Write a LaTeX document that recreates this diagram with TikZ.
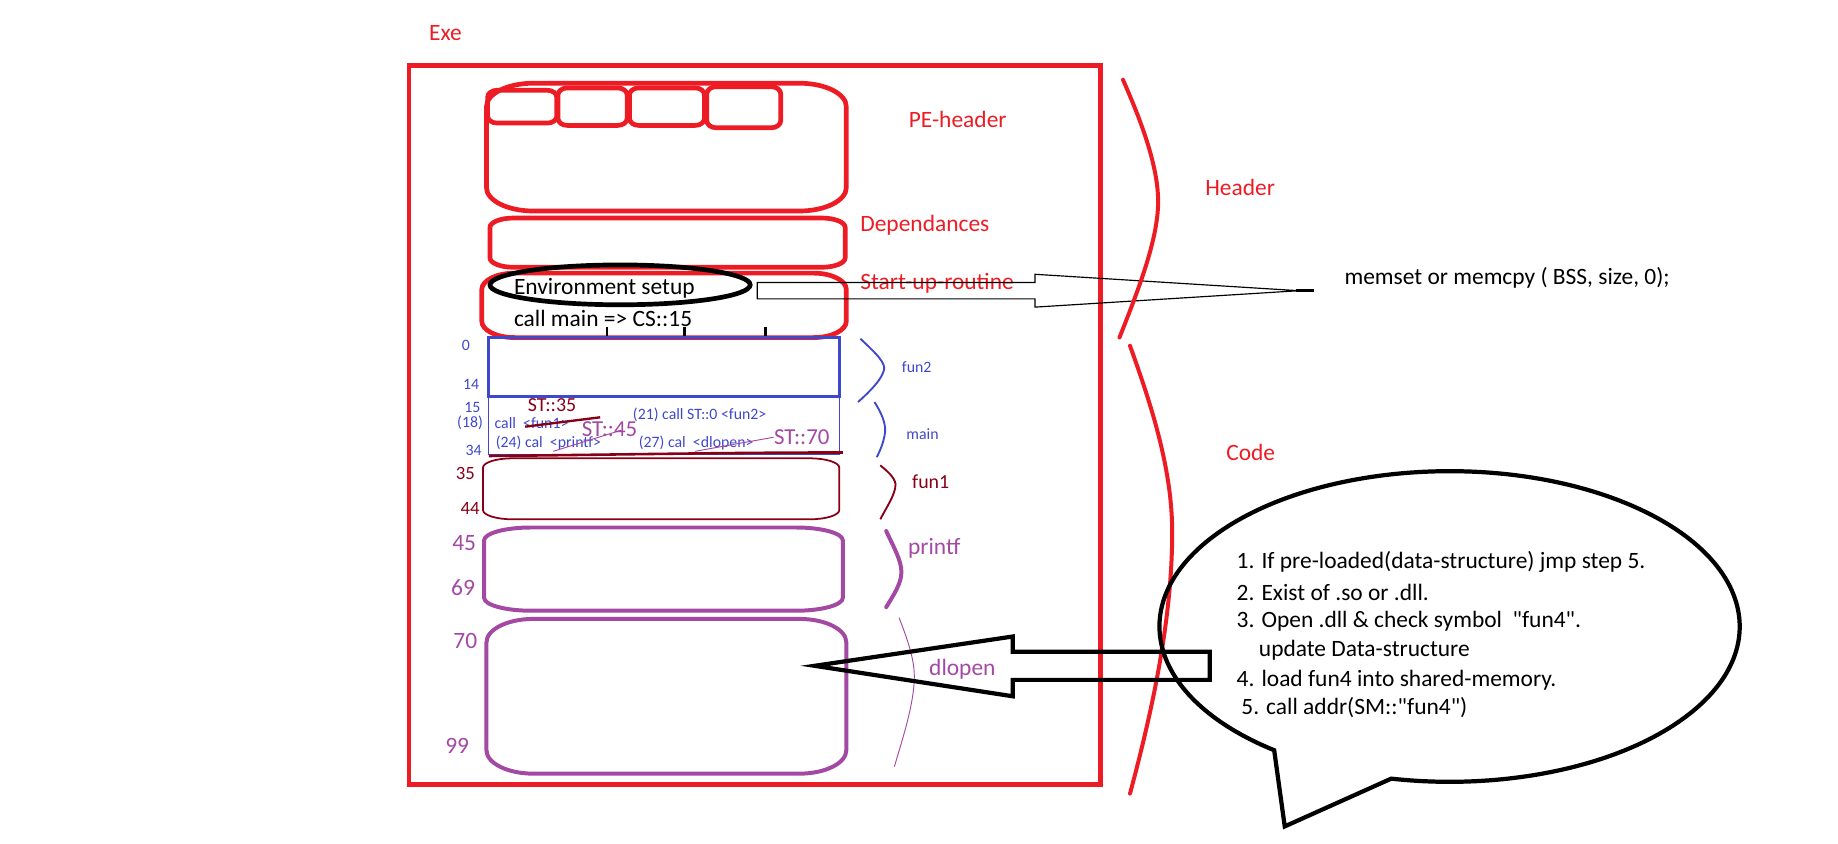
\documentclass[tikz,border=0pt]{standalone}
\usepackage{fontspec}
\setmainfont{Carlito}
\newfontfamily\carl{Carlito}
\definecolor{pred}{HTML}{ED1C24}
\definecolor{pblue}{HTML}{3F48CC}
\definecolor{pdred}{HTML}{880015}
\definecolor{ppurple}{HTML}{A349A4}
% rectangle with elliptical corners: style, x1, y1, x2, y2, rx, ry
\newcommand{\ebox}[7]{%
 \draw[#1] ({#2+#6},#3) -- ({#4-#6},#3)
   arc[start angle=-90,end angle=0,x radius=#6,y radius=#7] -- (#4,{#5-#7})
   arc[start angle=0,end angle=90,x radius=#6,y radius=#7] -- ({#2+#6},#5)
   arc[start angle=90,end angle=180,x radius=#6,y radius=#7] -- (#2,{#3+#7})
   arc[start angle=180,end angle=270,x radius=#6,y radius=#7] -- cycle;}
\begin{document}
\begin{tikzpicture}[x=1pt,y=-1pt,
  every node/.style={inner sep=0pt, outer sep=0pt},
  tbig/.style={font=\carl\fontsize{20}{24}\selectfont},
  tsmall/.style={font=\carl\fontsize{13.5}{16}\selectfont, text=pblue},
  redbox/.style={draw=pred, line width=4pt},
  redbrace/.style={draw=pred, line width=3.4pt, line cap=round},
  purplebox/.style={draw=ppurple, line width=3.4pt},
  blackline/.style={draw=black, line width=3.6pt, line join=miter},
]
\useasboundingbox (0,0) rectangle (1568,720);

% ---------- Exe frame ----------
\node[tbig, text=pred] (exe) at (380,28) {Exe};
\draw[redbox] (349,56) rectangle (939,669);

% ---------- PE header ----------
\ebox{redbox}{415}{71}{722}{180}{40}{20}
\ebox{redbox}{416}{77}{475}{105}{8}{6}
\ebox{redbox}{476}{75}{535}{107}{8}{6}
\ebox{redbox}{537}{75}{601}{107}{8}{6}
\ebox{redbox}{603}{74}{666}{109}{8}{6}
\node[tbig, text=pred] (peh) at (817,102) {PE-header};

% ---------- Dependances ----------
\ebox{redbox}{418}{186}{721}{228}{20}{8}
\node[tbig, text=pred, anchor=west] (dep) at (734,192) {Dependances};

% ---------- Start-up routine ----------
\ebox{redbox}{411}{233}{722}{288}{28}{14}
\draw[black, line width=2pt] (518,279) -- (518,288);
\draw[black, line width=2pt] (584,279) -- (584,288);
\draw[black, line width=2pt] (653,279) -- (653,288);
\draw[black, line width=4pt] (529,243) ellipse[x radius=111, y radius=17];
\node[tbig, anchor=west] (env) at (438.5,246) {Environment setup};
\node[tbig, anchor=west] (callm) at (438.5,271.5) {call main => CS::15};
\node[tbig, text=pred, anchor=west] (sur) at (734,242) {Start-up-routine};

% thin arrow to memset
\draw[black, line width=1pt] (646,241) -- (883,241) -- (883,234) -- (1108,248)
  -- (883,262) -- (883,255) -- (646,255) -- cycle;
\draw[black, line width=2.2pt] (1106,248) -- (1121,248);
\node[tbig, anchor=west] (mem) at (1147,237) {memset or memcpy ( BSS, size, 0);};

% ---------- fun2 / main ----------
\draw[pblue, line width=2.4pt] (417,288) rectangle (716,338);
\draw[pblue, line width=1pt] (417,338) rectangle (716,388);
\node[tsmall] (l0) at (397.5,295) {0};
\node[tsmall] (l14) at (402,328) {14};
\node[tsmall] (l15) at (403,348) {15};
\node[tsmall] (l18) at (401,361) {(18)};
\node[tsmall] (l34) at (404,384) {34};
\node[tsmall, anchor=west] (c1) at (422,361) {call\ \ <fun1>};
\node[tsmall, anchor=west] (c21) at (540,354) {(21) call ST::0 <fun2>};
\node[tsmall, anchor=west] (c24) at (423,378) {(24) cal\ \ <printf>};
\node[tsmall, anchor=west] (c27) at (545,378) {(27) cal\ \ <dlopen>};
\draw[pdred, line width=2pt] (448,364) -- (512,356);
\node[font=\carl\fontsize{17}{20}\selectfont, text=pdred] (st35) at (471,346) {ST::35};
\draw[ppurple, line width=0.8pt] (472,385) -- (530,367);
\node[font=\carl\fontsize{19.5}{22}\selectfont, text=ppurple] (st45) at (520,366) {ST::45};
\draw[ppurple, line width=0.8pt] (593,385) -- (660,373);
\node[font=\carl\fontsize{19.5}{22}\selectfont, text=ppurple] (st70) at (684,373) {ST::70};
\draw[pdred, line width=2.2pt] (417,389) .. controls (520,388) and (620,386) .. (719,386);

% ---------- fun1 ----------
\ebox{draw=pdred, line width=1.5pt}{412}{391}{716}{443}{25}{8}
\node[font=\carl\fontsize{16}{19}\selectfont, text=pdred] (l35) at (397,404) {35};
\node[font=\carl\fontsize{16}{19}\selectfont, text=pdred] (l44) at (401,434) {44};

% ---------- printf ----------
\ebox{purplebox}{413}{450}{719}{521}{40}{11}
\node[tbig, text=ppurple] (l45) at (396,463) {45};
\node[tbig, text=ppurple] (l69) at (395,501) {69};

% ---------- dlopen ----------
\ebox{purplebox}{415}{528}{722}{660}{40}{20}
\node[tbig, text=ppurple] (l70) at (397,547) {70};
\node[tbig, text=ppurple] (l99) at (390,636) {99};

% ---------- small braces ----------
\draw[pblue, line width=1.6pt] (734,289) .. controls (748,302) and (756,310) .. (754,316)
  .. controls (752,324) and (742,334) .. (732,343);
\node[tsmall] (fun2) at (782,313) {fun2};
\draw[pblue, line width=1.6pt] (746,343) .. controls (752,352) and (756,362) .. (755,369)
  .. controls (754,377) and (751,384) .. (748,390);
\node[tsmall] (mainl) at (787,370) {main};
\draw[pdred, line width=1.6pt] (751,397) .. controls (757,402) and (763,407) .. (764,413)
  .. controls (764,422) and (756,433) .. (751,443);
\node[font=\carl\fontsize{17}{20}\selectfont, text=pdred] (fun1) at (794,411) {fun1};
\draw[ppurple, line width=3.4pt, line cap=round] (756,453) .. controls (762,466) and (769,478) .. (769,488)
  .. controls (769,498) and (762,508) .. (756,518);
\node[tbig, text=ppurple] (printf) at (797,468) {printf};
\draw[ppurple, line width=0.8pt] (767,527) .. controls (774,545) and (780,562) .. (780,577)
  .. controls (780,600) and (770,630) .. (763,654);
\node[tbig, text=ppurple] (dlopenl) at (821,571) {dlopen};

% ---------- big braces ----------
\draw[redbrace] (958,68) .. controls (972,100) and (988,140) .. (988,172)
  .. controls (988,205) and (970,250) .. (955,288);
\node[tbig, text=pred] (hdr) at (1058,160) {Header};
\draw[redbrace] (964,295) .. controls (982,345) and (1000,400) .. (1000,454)
  .. controls (1000,530) and (982,610) .. (964,677);
\node[tbig, text=pred] (code) at (1067,386) {Code};

% ---------- block arrow into dlopen ----------
\draw[blackline] (695,568) -- (864,543) -- (864,556) -- (1032,556) -- (1032,580)
  -- (864,580) -- (864,594) -- cycle;

% ---------- speech bubble ----------
\draw[black, line width=3.6pt, line join=miter] (1087,640)
  arc[start angle=127.2, end angle=461.6, x radius=247.5, y radius=132.5]
  -- (1096,705) -- cycle;
\node[tbig, anchor=west] (s1) at (1055,479) {1. If pre-loaded(data-structure) jmp step 5.};
\node[tbig, anchor=west] (s2) at (1055,505) {2. Exist of .so or .dll.};
\node[tbig, anchor=west] (s3) at (1055,530) {3. Open .dll \& check symbol\ \ "fun4".};
\node[tbig, anchor=west] (s3b) at (1074,554.5) {update Data-structure};
\node[tbig, anchor=west] (s4) at (1055,580) {4. load fun4 into shared-memory.};
\node[tbig, anchor=west] (s5) at (1059,604) {5. call addr(SM::"fun4")};
\end{tikzpicture}
\end{document}
